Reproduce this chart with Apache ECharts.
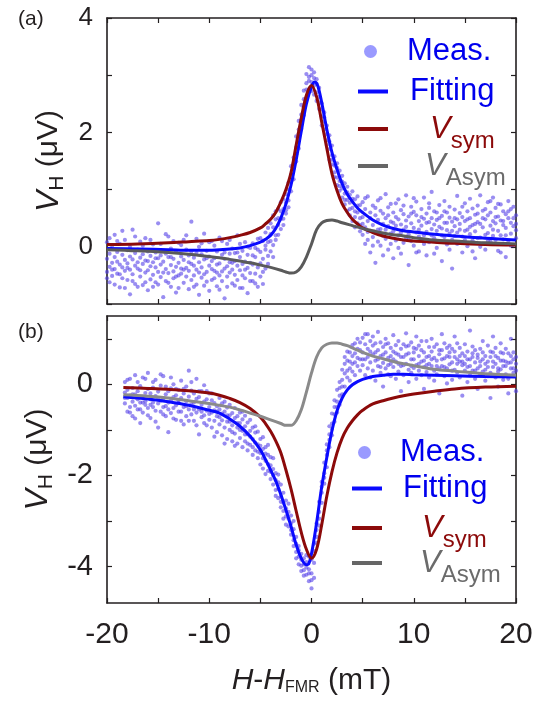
<!DOCTYPE html>
<html>
<head>
<meta charset="utf-8">
<script src="https://cdn.jsdelivr.net/npm/echarts@6/dist/echarts.min.js"></script>
<style>html,body{margin:0;padding:0;background:#fff;}#c{width:539px;height:701px;}</style>
</head>
<body>
<div id="c"></div>
<script>
// ---------- tick labels ----------
const xTicks = [-20, -15, -10, -5, 0, 5, 10, 15, 20];
const xTickLabels = [-20, -10, 0, 10, 20];
const yTicksA = [-1, 0, 1, 2, 3, 4];
const yLabelsA = [0, 2, 4];
const yTicksB = [-4, -3, -2, -1, 0, 1];
const yLabelsB = [-4, -2, 0];

// ---------- panel (a) measured: [field, y1, y2, y3, y4] ----------
const measA = [
[-20,-0.21,0.08,-0.44,-0.55],[-19.75,-0.35,-0.12,-0.62,0.15],[-19.5,0.02,-0.28,-0.51,-0.4],[-19.25,-0.18,-0.39,0.21,-0.66],
[-19,-0.47,-0.09,-0.26,0.1],[-18.75,-0.31,-0.71,0.05,-0.48],[-18.5,-0.14,-0.36,-0.55,0.28],[-18.25,0.12,-0.23,-0.42,-0.72],
[-18,-0.29,-0.58,-0.06,-0.37],[-17.75,-0.4,-0.17,-0.83,0.0],[-17.5,-0.22,0.3,-0.48,-0.6],[-17.25,-0.33,-0.11,-0.65,0.18],
[-17,-0.05,-0.38,-0.27,-0.7],[-16.75,-0.52,-0.19,0.09,-0.41],[-16.5,-0.3,-0.67,-0.13,0.02],[-16.25,-0.24,0.15,-0.45,-0.62],
[-16,-0.41,-0.08,-0.76,-0.25],[-15.75,-0.16,-0.34,-0.57,0.12],[-15.5,0.04,-0.27,-0.49,-0.7],[-15.25,-0.36,-0.62,-0.1,-0.2],
[-15,-0.2,-0.44,0.41,-0.66],[-14.75,-0.53,-0.15,-0.31,0.05],[-14.5,-0.26,-0.88,-0.07,-0.45],[-14.25,-0.39,-0.12,-0.6,0.22],
[-14,-0.18,-0.46,0.18,-0.63],[-13.75,-0.32,-0.7,-0.03,-0.18],[-13.5,-0.43,-0.21,-0.55,0.1],[-13.25,-0.09,-0.35,-0.8,-0.52],
[-13,-0.28,0.07,-0.5,-0.72],[-12.75,-0.47,-0.17,-0.38,0.03],[-12.5,-0.23,-0.63,0.12,-0.4],[-12.25,-0.37,-0.05,-0.52,0.2],
[-12,-0.15,-0.42,-0.74,-0.27],[-11.75,-0.3,0.44,-0.58,-0.08],[-11.5,-0.5,-0.19,-0.33,-0.7],[-11.25,-0.11,-0.4,-0.66,0.14],
[-11,-0.27,-0.84,0.0,-0.45],[-10.75,-0.36,-0.13,-0.54,0.06],[-10.5,-0.22,-0.48,0.23,-0.68],[-10.25,-0.44,-0.07,-0.61,-0.2],
[-10,-0.17,-0.33,-0.77,0.08],[-9.75,-0.39,0.1,-0.25,-0.58],[-9.5,-0.55,-0.2,-0.42,0.02],[-9.25,-0.08,-0.31,-0.69,-0.45],
[-9,-0.29,-0.5,0.16,-0.75],[-8.75,-0.43,-0.14,-0.6,0.1],[-8.5,-0.21,-0.38,-0.9,-0.1],[-8.25,-0.34,0.05,-0.52,-0.7],
[-8,-0.12,-0.45,-0.27,0.12],[-7.75,-0.4,-0.64,-0.03,-0.28],[-7.5,-0.25,-0.11,-0.49,-0.68],[-7.25,-0.33,0.2,-0.58,-0.1],
[-7,-0.18,-0.41,-0.72,0.05],[-6.75,-0.07,-0.3,-0.5,-0.72],[-6.5,-0.26,-0.55,0.08,-0.4],[-6.25,-0.14,-0.37,-0.81,0.0],
[-6,-0.02,-0.28,-0.46,-0.6],[-5.75,-0.31,0.06,-0.6,-0.15],[-5.5,-0.18,-0.47,-0.02,-0.64],[-5.25,-0.36,0.14,-0.7,-0.05],
[-5,-0.09,-0.29,-0.52,0.15],[-4.75,0.1,-0.21,-0.44,-0.65],[-4.5,-0.05,0.25,-0.38,0.02],[-4.25,0.08,-0.16,0.33,-0.3],
[-4,0.22,-0.08,0.41,0.1],[-3.75,0.03,0.34,0.55,-0.18],[-3.5,0.2,0.48,0.12,0.62],[-3.25,0.38,0.66,0.21,0.5],
[-3,0.62,0.31,0.48,0.78],[-2.75,0.49,0.83,0.66,0.38],[-2.5,0.92,0.58,0.77,0.64],[-2.25,0.81,1.12,0.69,1.0],
[-2,1.26,0.97,1.41,1.15],[-1.75,1.18,1.56,1.37,1.45],[-1.5,1.74,1.49,1.93,1.62],[-1.25,1.98,1.72,2.2,2.05],
[-1,2.31,2.06,2.48,2.22],[-0.75,2.44,2.73,2.3,2.58],[-0.5,2.86,2.6,3.02,2.75],[-0.25,2.97,2.74,3.14,2.9],
[0,3.1,2.88,2.72,3.0],[0.25,2.82,3.05,2.95,2.66],[0.5,2.7,2.93,2.55,2.85],[0.75,2.62,2.41,2.78,2.52],
[1,2.28,2.51,2.12,2.4],[1.25,2.35,2.05,2.19,2.26],[1.5,1.86,2.12,1.97,1.78],[1.75,1.71,1.95,1.52,1.84],
[2,1.44,1.77,1.6,1.52],[2.25,1.58,1.3,1.42,1.22],[2.5,1.21,1.46,1.08,1.38],[2.75,1.33,0.98,1.15,1.06],
[3,1.02,1.24,0.86,1.14],[3.25,0.74,1.11,0.93,0.82],[3.5,1.05,0.82,0.63,0.95],[3.75,0.91,0.55,0.77,0.66],
[4,0.68,0.97,0.45,0.84],[4.25,0.83,0.52,0.34,0.62],[4.5,0.6,0.88,0.41,0.72],[4.75,0.73,0.27,0.5,0.38],
[5,0.52,0.21,0.78,0.4],[5.25,0.34,0.66,0.05,0.85],[5.5,0.45,0.12,0.88,0.26],[5.75,0.6,0.28,-0.1,0.5],
[6,0.38,0.72,0.17,0.02],[6.25,0.25,0.55,-0.28,0.68],[6.5,0.47,0.09,0.81,0.3],[6.75,0.31,0.63,0.02,0.85],
[7,0.58,0.19,0.4,-0.15],[7.25,0.14,0.5,0.92,0.3],[7.5,0.36,-0.05,0.69,0.55],[7.75,0.44,0.23,0.75,0.05],
[8,0.27,0.6,-0.2,0.42],[8.25,0.52,0.11,0.37,0.76],[8.5,0.2,0.48,0.83,-0.02],[8.75,0.39,-0.12,0.64,0.25],
[9,0.3,0.57,0.07,0.72],[9.25,0.46,0.16,0.9,0.35],[9.5,0.22,0.53,-0.32,0.12],[9.75,0.41,0.7,0.1,0.58],
[10,0.33,0.02,0.61,0.85],[10.25,0.55,0.25,0.79,-0.1],[10.5,0.18,0.45,-0.08,0.3],[10.75,0.37,0.66,0.13,0.52],
[11,0.49,0.2,0.86,0.05],[11.25,0.26,0.58,-0.15,0.42],[11.5,0.43,0.08,0.68,0.76],[11.75,0.31,0.5,0.96,0.2],
[12,0.15,0.39,0.62,-0.12],[12.25,0.47,-0.02,0.28,0.6],[12.5,0.35,0.73,0.1,0.5],[12.75,0.2,0.54,-0.25,0.32],
[13,0.42,0.17,0.8,0.62],[13.25,0.29,0.6,0.04,0.42],[13.5,0.51,0.23,0.7,-0.05],[13.75,0.12,0.44,-0.38,0.28],
[14,0.36,0.65,0.19,0.5],[14.25,0.25,0.48,0.89,0.05],[14.5,0.4,0.07,0.59,0.3],[14.75,0.18,0.52,-0.1,0.7],
[15,0.45,0.28,0.76,0.12],[15.25,0.3,0.62,0.01,0.48],[15.5,0.22,0.5,0.84,0.35],[15.75,0.38,0.11,0.67,-0.08],
[16,0.27,0.56,-0.2,0.4],[16.25,0.43,0.15,0.72,0.58],[16.5,0.16,0.4,0.9,0.0],[16.75,0.34,0.63,0.05,0.5],
[17,0.48,0.21,-0.05,0.66],[17.25,0.24,0.55,0.78,0.1],[17.5,0.37,0.09,0.6,0.8],[17.75,0.19,0.45,0.86,0.3],
[18,0.41,0.68,0.12,0.52],[18.25,0.28,-0.07,0.53,0.75],[18.5,0.46,0.2,0.74,-0.1],[18.75,0.13,0.38,0.62,0.45],
[19,0.33,0.57,-0.18,0.2],[19.25,0.5,0.1,0.8,0.62],[19.5,0.23,0.42,0.66,0.02],[19.75,0.36,0.03,0.7,0.5],
[20,0.29,0.55,0.15,0.4]
];

// ---------- panel (a) curves [field, V] ----------
const fitA = [[-20,-0.03],[-17,-0.04],[-14,-0.05],[-12,-0.06],[-10,-0.06],[-9,-0.05],[-8,-0.04],[-7,-0.02],[-6,0.02],[-5,0.08],[-4.5,0.13],[-4,0.2],[-3.5,0.32],[-3,0.5],[-2.5,0.75],[-2,1.08],[-1.5,1.52],[-1,2.02],[-0.5,2.5],[0,2.8],[0.3,2.88],[0.6,2.82],[1,2.52],[1.5,2.05],[2,1.65],[2.5,1.35],[3,1.1],[3.5,0.92],[4,0.79],[4.5,0.68],[5,0.6],[6,0.47],[7,0.38],[8,0.32],[9,0.28],[10,0.26],[12,0.22],[14,0.19],[17,0.15],[20,0.12]];
const symA = [[-20,0.04],[-17,0.05],[-14,0.07],[-12,0.09],[-10,0.11],[-9,0.13],[-8,0.16],[-7,0.2],[-6,0.25],[-5,0.33],[-4.5,0.4],[-4,0.48],[-3.5,0.6],[-3,0.78],[-2.5,1.0],[-2,1.3],[-1.5,1.78],[-1,2.25],[-0.5,2.65],[0,2.82],[0.5,2.62],[1,2.18],[1.5,1.72],[2,1.28],[2.5,0.98],[3,0.75],[3.5,0.6],[4,0.48],[4.5,0.4],[5,0.33],[6,0.25],[7,0.19],[8,0.15],[9,0.12],[10,0.1],[12,0.08],[14,0.06],[17,0.04],[20,0.03]];
const asymA = [[-20,-0.05],[-17,-0.07],[-14,-0.1],[-12,-0.13],[-10,-0.17],[-9,-0.19],[-8,-0.22],[-7,-0.25],[-6,-0.28],[-5,-0.32],[-4,-0.36],[-3,-0.41],[-2.5,-0.44],[-2,-0.46],[-1.5,-0.44],[-1,-0.35],[-0.5,-0.18],[0,0.05],[0.5,0.3],[1,0.42],[1.5,0.46],[2,0.47],[2.5,0.45],[3,0.42],[4,0.37],[5,0.32],[6,0.28],[7,0.24],[8,0.21],[9,0.19],[10,0.16],[12,0.12],[14,0.1],[17,0.07],[20,0.05]];

// ---------- panel (b) measured ----------
const measB = [
[-18.25,-0.18,-0.42,0.05,-0.3],[-18,-0.3,-0.6,-0.12,0.1],[-17.75,0.12,-0.25,-0.5,-0.62],[-17.5,-0.38,-0.08,-0.7,-0.22],
[-17.25,-0.22,-0.47,0.2,-0.75],[-17,-0.55,-0.15,-0.33,0.05],[-16.75,-0.04,-0.4,-0.85,-0.55],[-16.5,-0.28,-0.62,0.15,-0.4],
[-16.25,-0.45,-0.19,-0.37,0.12],[-16,-0.1,-0.52,0.25,-0.68],[-15.75,-0.33,-0.74,-0.2,-0.45],[-15.5,-0.5,-0.07,-0.4,0.05],
[-15.25,-0.26,-0.58,0.1,-0.82],[-15,-0.42,-0.16,-0.95,-0.3],[-14.75,-0.03,-0.36,-0.6,0.22],[-14.5,-0.31,-0.5,0.18,-0.66],
[-14.25,-0.48,-0.22,-0.7,-0.05],[-14,-0.15,-0.4,-1.05,-0.55],[-13.75,-0.35,-0.63,-0.09,0.15],[-13.5,-0.52,0.0,-0.28,-0.75],
[-13.25,-0.24,-0.46,-0.78,-0.1],[-13,-0.41,-0.12,-0.6,-0.35],[-12.75,-0.6,-0.3,0.08,-0.8],[-12.5,-0.2,-0.5,-0.88,-0.1],
[-12.25,-0.37,-0.7,-0.05,-0.48],[-12,-0.55,-0.27,0.3,-0.8],[-11.75,-0.14,-0.44,-0.66,0.05],[-11.5,-0.4,-0.8,-0.2,-0.55],
[-11.25,-0.62,-0.32,0.12,-0.9],[-11,-0.28,-0.55,-1.1,-0.15],[-10.75,-0.45,-0.15,-0.72,-0.6],[-10.5,-0.68,-0.38,-0.02,-0.85],
[-10.25,-0.33,-0.58,-0.9,-0.15],[-10,-0.5,-0.2,-0.78,-0.65],[-9.75,-0.62,-0.35,-0.95,-0.2],[-9.5,-0.41,-0.8,-0.57,-1.15],
[-9.25,-0.7,-0.48,-1.05,-0.6],[-9,-0.88,-0.55,-0.3,-0.72],[-8.75,-0.64,-1.12,-0.79,-0.42],[-8.5,-0.6,-0.95,-0.38,-1.3],
[-8.25,-0.82,-0.51,-1.2,-0.68],[-8,-1.0,-0.68,-0.45,-0.82],[-7.75,-0.9,-1.25,-0.63,-1.05],[-7.5,-0.74,-1.08,-0.52,-1.35],
[-7.25,-1.3,-0.95,-0.7,-0.85],[-7,-0.85,-1.18,-0.62,-1.0],[-6.75,-1.02,-0.77,-1.38,-0.6],[-6.5,-1.25,-0.92,-0.69,-1.1],
[-6.25,-1.1,-0.84,-1.45,-1.3],[-6,-1.33,-1.02,-0.78,-1.15],[-5.75,-1.2,-0.95,-1.55,-1.38],[-5.5,-1.06,-1.45,-1.28,-0.92],
[-5.25,-1.32,-1.62,-1.04,-1.48],[-5,-1.51,-1.2,-1.76,-1.35],[-4.75,-1.42,-1.85,-1.16,-1.62],[-4.5,-1.68,-1.38,-1.97,-1.52],
[-4.25,-1.55,-1.9,-1.33,-1.75],[-4,-1.78,-2.08,-1.6,-1.92],[-3.75,-2.2,-1.86,-1.62,-2.0],[-3.5,-1.95,-2.32,-2.1,-2.45],
[-3.25,-2.15,-2.5,-1.98,-2.3],[-3,-2.46,-2.2,-2.7,-2.58],[-2.75,-2.38,-2.78,-2.6,-2.95],[-2.5,-2.9,-2.55,-2.72,-3.08],
[-2.25,-2.8,-3.12,-2.95,-2.62],[-2,-3.05,-3.3,-2.88,-3.2],[-1.75,-3.42,-3.18,-3.55,-3.0],[-1.5,-3.35,-3.68,-3.5,-3.82],
[-1.25,-3.78,-3.55,-3.64,-3.95],[-1,-3.72,-3.98,-3.85,-4.1],[-0.75,-4.08,-3.82,-3.95,-4.2],[-0.5,-3.9,-4.18,-4.02,-3.75],
[-0.25,-4.06,-3.78,-4.32,-4.15],[0,-3.85,-4.15,-4.48,-4.3],[0.25,-3.66,-3.92,-4.25,-3.5],[0.5,-3.2,-3.48,-3.05,-3.35],
[0.75,-2.8,-2.58,-3.1,-2.95],[1,-2.38,-2.14,-2.6,-2.25],[1.25,-1.95,-1.72,-2.18,-2.05],[1.5,-1.55,-1.32,-1.82,-1.45],
[1.75,-1.1,-1.38,-0.92,-1.22],[2,-0.86,-1.12,-0.64,-0.98],[2.25,-0.5,-0.82,-0.66,-0.35],[2.5,-0.38,-0.62,-0.12,-0.5],
[2.75,-0.08,-0.45,-0.25,0.05],[3,0.1,-0.22,0.32,-0.05],[3.25,0.24,-0.05,0.45,0.6],[3.5,0.52,0.15,0.3,0.72],
[3.75,0.35,0.7,0.08,0.5],[4,0.62,0.28,0.86,0.45],[4.25,0.48,0.9,0.2,0.68],[4.5,0.78,0.4,1.0,0.58],
[4.75,0.55,0.92,0.3,0.75],[5,0.7,0.42,1.02,0.55],[5.25,0.55,0.88,0.2,1.1],[5.5,0.78,0.35,1.1,0.6],
[5.75,0.48,0.95,0.15,0.72],[6,0.66,0.3,0.85,1.05],[6.25,0.9,0.52,0.08,0.7],[6.5,0.4,0.75,1.15,0.55],
[6.75,0.62,0.25,0.92,0.38],[7,0.82,0.47,-0.05,0.65],[7.25,0.35,0.7,1.0,0.88],[7.5,0.58,0.9,0.22,0.42],
[7.75,0.45,0.18,0.8,0.62],[8,0.72,0.38,1.08,0.55],[8.25,0.5,0.86,0.12,0.68],[8.5,0.65,0.28,0.95,0.45],
[8.75,0.4,0.78,-0.15,0.6],[9,0.6,0.2,0.88,0.42],[9.25,0.83,0.45,1.12,0.65],[9.5,0.32,0.68,0.05,0.85],
[9.75,0.55,0.92,0.25,0.4],[10,0.7,0.36,0.8,0.55],[10.25,0.42,0.12,1.05,0.78],[10.5,0.62,0.85,0.3,0.45],
[10.75,0.5,0.2,0.75,0.95],[11,0.38,0.7,-0.1,0.52],[11.25,0.6,0.95,0.27,0.42],[11.5,0.45,0.15,0.82,0.62],
[11.75,0.72,0.4,1.0,0.55],[12,0.3,0.58,0.08,0.82],[12.25,0.52,0.88,0.22,0.4],[12.5,0.66,0.35,-0.2,0.75],
[12.75,0.4,0.75,1.1,0.55],[13,0.57,0.18,0.9,0.38],[13.25,0.35,0.62,0.02,0.8],[13.5,0.7,0.44,0.85,0.6],
[13.75,0.48,0.1,0.78,0.3],[14,0.6,0.32,1.05,0.72],[14.25,0.26,0.55,0.9,0.45],[14.5,0.5,0.8,0.15,0.62],
[14.75,0.42,0.68,-0.25,0.5],[15,0.62,0.3,0.88,0.45],[15.25,0.38,0.72,0.05,0.55],[15.5,0.55,0.2,1.18,0.4],
[15.75,0.3,0.6,0.83,0.68],[16,0.48,0.12,0.75,0.3],[16.25,0.65,0.35,-0.1,0.58],[16.5,0.4,0.78,0.22,0.5],
[16.75,0.55,0.28,0.95,0.7],[17,0.32,0.62,0.08,0.45],[17.25,0.5,0.85,0.18,0.38],[17.5,0.6,0.25,-0.3,0.72],
[17.75,0.38,0.7,1.05,0.5],[18,0.45,0.15,0.8,0.62],[18.25,0.28,0.58,-0.05,0.35],[18.5,0.52,0.33,0.9,0.7],
[18.75,0.4,0.68,0.1,0.52],[19,0.22,0.5,0.78,0.4],[19.25,0.47,0.12,-0.2,0.68],[19.5,0.35,0.62,1.0,0.48],
[19.75,0.55,0.25,0.7,0.35],[20,0.3,0.45,-0.15,0.6]
];

// ---------- panel (b) curves ----------
const fitB = [[-18.4,-0.27],[-16,-0.32],[-14,-0.38],[-12,-0.46],[-10,-0.57],[-9,-0.63],[-8,-0.76],[-7,-0.92],[-6,-1.14],[-5,-1.44],[-4.5,-1.65],[-4,-1.88],[-3.5,-2.12],[-3,-2.42],[-2.5,-2.76],[-2,-3.12],[-1.5,-3.52],[-1,-3.82],[-0.5,-3.96],[-0.3,-3.95],[0,-3.72],[0.5,-3.04],[1,-2.25],[1.5,-1.6],[2,-1.02],[2.5,-0.58],[3,-0.3],[3.5,-0.12],[4,-0.01],[4.5,0.06],[5,0.11],[6,0.17],[7,0.2],[8,0.22],[9,0.22],[10,0.21],[12,0.2],[14,0.19],[17,0.17],[20,0.16]];
const symB = [[-18.4,-0.07],[-16,-0.09],[-14,-0.11],[-12,-0.14],[-10,-0.19],[-9,-0.24],[-8,-0.31],[-7,-0.4],[-6,-0.53],[-5,-0.72],[-4.5,-0.86],[-4,-1.03],[-3.5,-1.24],[-3,-1.5],[-2.5,-1.88],[-2,-2.3],[-1.5,-2.78],[-1,-3.25],[-0.5,-3.62],[0,-3.82],[0.5,-3.62],[1,-3.08],[1.5,-2.45],[2,-1.92],[2.5,-1.5],[3,-1.18],[3.5,-0.96],[4,-0.8],[4.5,-0.67],[5,-0.57],[6,-0.43],[7,-0.36],[8,-0.3],[9,-0.25],[10,-0.21],[12,-0.15],[14,-0.1],[17,-0.06],[20,-0.04]];
const asymB = [[-18.4,-0.23],[-16,-0.26],[-14,-0.3],[-12,-0.36],[-10,-0.42],[-9,-0.46],[-8,-0.5],[-7,-0.56],[-6,-0.63],[-5,-0.7],[-4,-0.78],[-3,-0.86],[-2.5,-0.9],[-2,-0.9],[-1.5,-0.8],[-1,-0.56],[-0.5,-0.17],[0,0.25],[0.5,0.6],[1,0.8],[1.5,0.88],[2,0.91],[2.5,0.91],[3,0.88],[3.5,0.85],[4,0.8],[4.5,0.75],[5,0.7],[6,0.62],[7,0.56],[8,0.5],[9,0.45],[10,0.41],[12,0.33],[14,0.29],[17,0.23],[20,0.2]];

// ---------- build ----------
const FONT = '"Liberation Sans", Arial, Helvetica, sans-serif';
const INK = '#231f20';
const BLUE = '#0a0aff', RED = '#8c0a0a', GRAY_A = '#5a5a5a', GRAY_B = '#8a8a8a', DOT = 'rgba(85,65,232,0.8)';
const toPoints = rows => rows.flatMap(r => r.slice(1).map(v => [r[0], v]));

const axLine = { show: true, onZero: false, lineStyle: { color: INK, width: 1.6 } };
const axTick = { show: true, inside: true, length: 5, lineStyle: { color: INK, width: 1.2 } };

function xAx(grid, pos, labels) {
  const a = {
    gridIndex: grid, type: 'value', position: pos, min: -20, max: 20, interval: 5,
    axisLine: axLine, axisTick: axTick, splitLine: { show: false },
    axisLabel: { show: false }
  };
  if (labels) {
    a.axisLabel = { show: true, fontFamily: FONT, fontSize: 30, color: INK, margin: 17,
      formatter: v => xTickLabels.includes(v) ? String(v) : '' };
    a.name = '{i|H}{t|-}{i|H}{s|FMR}{t| (mT)}';
    a.nameLocation = 'middle';
    a.nameGap = 61;
    a.nameTextStyle = { rich: {
      i: { fontFamily: FONT, fontSize: 30, fontStyle: 'italic', color: INK, lineHeight: 34 },
      t: { fontFamily: FONT, fontSize: 30, color: INK, lineHeight: 34 },
      s: { fontFamily: FONT, fontSize: 16, color: INK, lineHeight: 34, padding: [14, 0, 0, 0] }
    } };
  }
  return a;
}
function yAx(grid, pos, min, max, ticks, labels, fs, gap) {
  const a = {
    gridIndex: grid, type: 'value', position: pos, min: min, max: max,
    axisLine: axLine, splitLine: { show: false },
    axisTick: Object.assign({}, axTick, { customValues: ticks }),
    axisLabel: { show: false }
  };
  if (labels) {
    a.axisLabel = { show: true, customValues: labels, fontFamily: FONT, fontSize: fs, color: INK, margin: 14 };
    a.name = '{v|V}{s|H}{t| (μV)}';
    a.nameLocation = 'middle';
    a.nameRotate = 90;
    a.nameGap = gap;
    a.nameTextStyle = { rich: {
      v: { fontFamily: FONT, fontSize: 32, fontStyle: 'italic', color: INK, lineHeight: 34 },
      s: { fontFamily: FONT, fontSize: 21, color: INK, lineHeight: 34, padding: [16, 0, 0, 0] },
      t: { fontFamily: FONT, fontSize: 30, color: INK, lineHeight: 34 }
    } };
  }
  return a;
}

function legendItem(name, text, rich, left, top, icon, w, h, color) {
  return {
    left: left, top: top, padding: 0, orient: 'vertical', selectedMode: false,
    itemWidth: w, itemHeight: h,
    data: [{ name: name, icon: icon, itemStyle: { color: color, borderWidth: 0, opacity: 1 } }],
    formatter: () => text,
    textStyle: { rich: rich }
  };
}
function richMain(color, pad, italic) {
  return { fontFamily: FONT, fontSize: 31, color: color, lineHeight: 36, fontStyle: italic ? 'italic' : 'normal', padding: [0, 0, 0, pad] };
}
function richSub(color) {
  return { fontFamily: FONT, fontSize: 24, color: color, lineHeight: 36, padding: [24, 0, 0, 0] };
}
function legendSet(dotLeft, lineLeft, cys, pads) {
  return [
    legendItem('Meas.', '{a|Meas.}', { a: richMain('#0000ee', pads[0], false) }, dotLeft, cys[0] - 16, 'circle', 13, 13, '#9a9aff'),
    legendItem('Fitting', '{a|Fitting}', { a: richMain('#0000ee', pads[1], false) }, lineLeft, cys[1] - 15, 'rect', 30, 4, BLUE),
    legendItem('Vsym', '{a|V}{b|sym}', { a: richMain(RED, pads[2], true), b: richSub(RED) }, lineLeft, cys[2] - 23, 'rect', 30, 4, RED),
    legendItem('VAsym', '{a|V}{b|Asym}', { a: richMain('#6b6b6b', pads[3], true), b: richSub('#6b6b6b') }, lineLeft, cys[3] - 23, 'rect', 30, 4, '#666666')
  ];
}

function lineSeries(name, data, xi, yi, color) {
  return { name: name, type: 'line', data: data, xAxisIndex: xi, yAxisIndex: yi,
    showSymbol: false, smooth: 0.35, lineStyle: { color: color, width: 3 }, itemStyle: { color: color }, silent: true };
}
function scatterSeries(rows, xi, yi) {
  return { name: 'Meas.', type: 'scatter', data: toPoints(rows), xAxisIndex: xi, yAxisIndex: yi,
    symbolSize: 4.2, itemStyle: { color: DOT, opacity: 0.75 }, silent: true };
}

const option = {
  animation: false,
  backgroundColor: '#fff',
  title: [
    { text: '(a)', left: 13, top: 4, textStyle: { fontFamily: FONT, fontSize: 21, fontWeight: 'normal', color: INK } },
    { text: '(b)', left: 13, top: 317, textStyle: { fontFamily: FONT, fontSize: 21, fontWeight: 'normal', color: INK } }
  ],
  grid: [
    { left: 107, top: 18, width: 409, height: 286 },
    { left: 107, top: 316, width: 409, height: 287 }
  ],
  xAxis: [ xAx(0, 'bottom', false), xAx(0, 'top', false), xAx(1, 'bottom', true), xAx(1, 'top', false) ],
  yAxis: [
    yAx(0, 'left', -1, 4, yTicksA, yLabelsA, 26, 40),
    yAx(0, 'right', -1, 4, yTicksA, null),
    yAx(1, 'left', -4.8, 1.5, yTicksB, yLabelsB, 29, 44),
    yAx(1, 'right', -4.8, 1.5, yTicksB, null)
  ],
  legend: [].concat(
    legendSet(364, 358, [52, 91, 128, 165], [25, 17, 37, 32]),
    legendSet(358, 352, [453, 488, 527, 562], [24, 16, 35, 33])
  ),
  series: [
    scatterSeries(measA, 0, 0),
    lineSeries('Fitting', fitA, 0, 0, BLUE),
    lineSeries('Vsym', symA, 0, 0, RED),
    lineSeries('VAsym', asymA, 0, 0, GRAY_A),
    scatterSeries(measB, 2, 2),
    lineSeries('Fitting', fitB, 2, 2, BLUE),
    lineSeries('Vsym', symB, 2, 2, RED),
    lineSeries('VAsym', asymB, 2, 2, GRAY_B)
  ]
};

const chart = echarts.init(document.getElementById('c'), null, { renderer: 'canvas' });
chart.setOption(option);
</script>
</body>
</html>
